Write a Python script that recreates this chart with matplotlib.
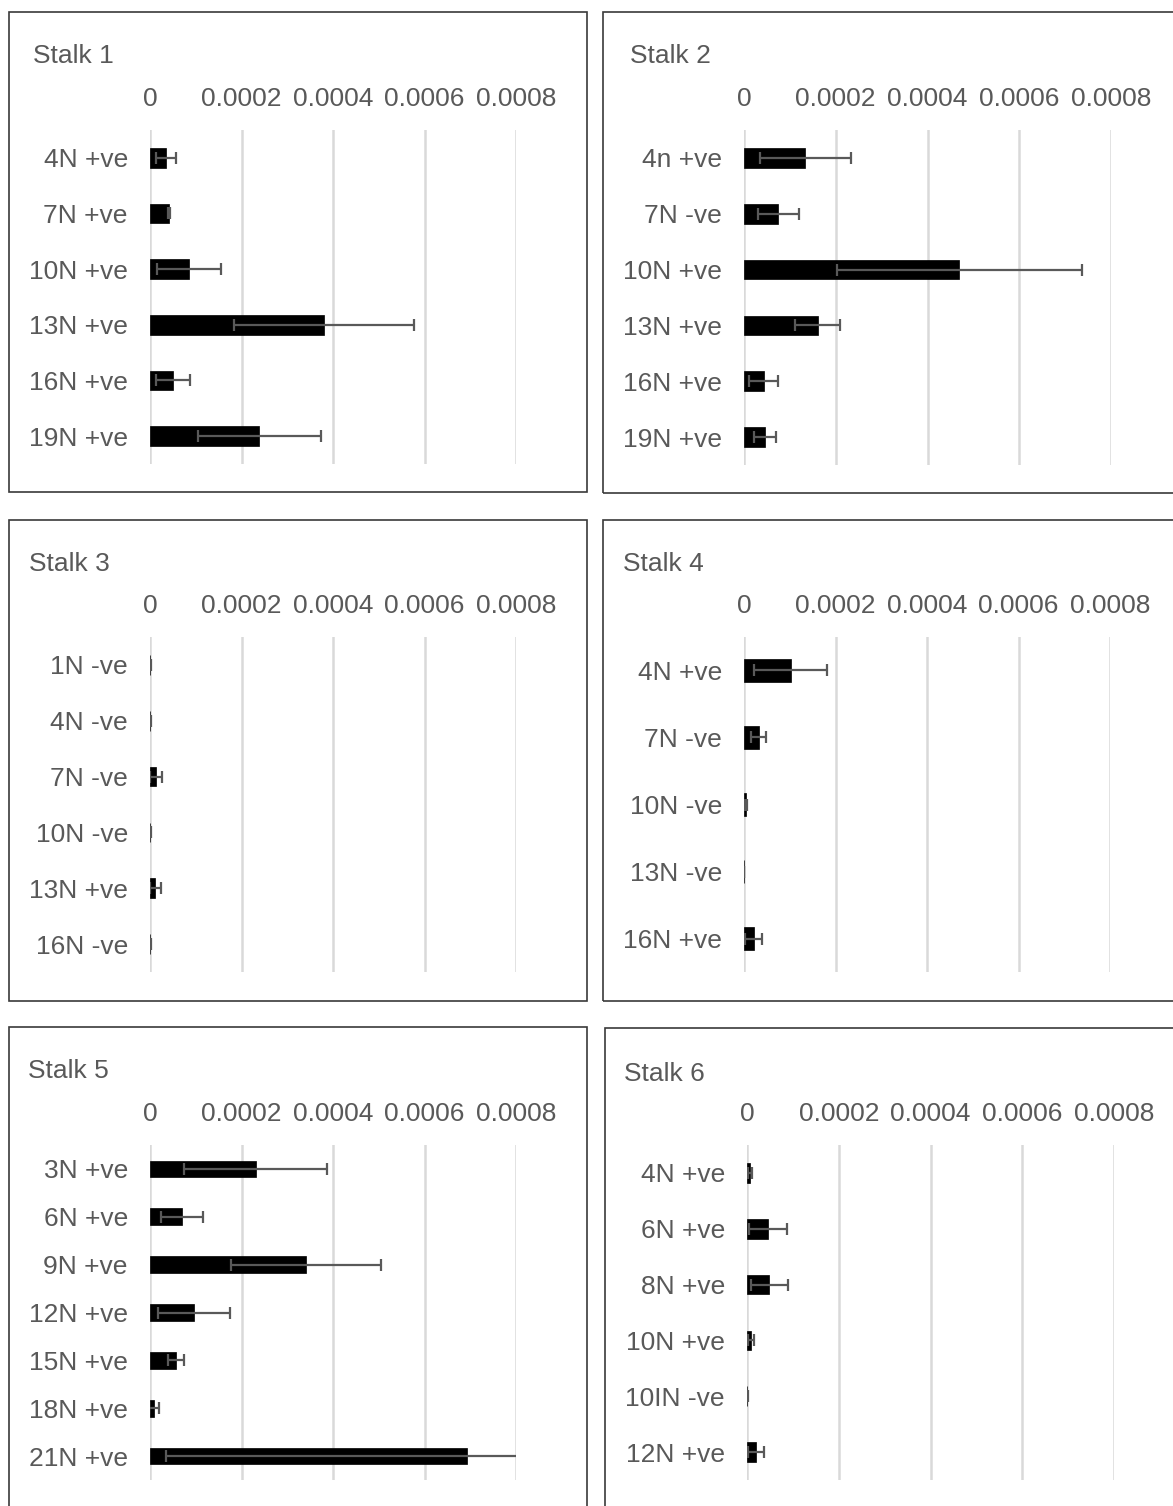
import matplotlib
matplotlib.use('Agg')
import matplotlib.pyplot as plt
from matplotlib.patches import Rectangle

plt.rcParams['font.family'] = ['Liberation Sans', 'DejaVu Sans']

W, H = 1173, 1506
TXT = '#595959'

# ---------------- data ----------------
xtick_values = [0, 0.0002, 0.0004, 0.0006, 0.0008]
xtick_labels = ['0', '0.0002', '0.0004', '0.0006', '0.0008']

stalk1_labels = ['4N +ve', '7N +ve', '10N +ve', '13N +ve', '16N +ve', '19N +ve']
stalk1_means = [3.5e-5, 4.1e-5, 8.6e-5, 3.80e-4, 5.1e-5, 2.39e-4]
stalk1_errs = [2.2e-5, 2e-6, 7.0e-5, 1.96e-4, 3.7e-5, 1.35e-4]

stalk2_labels = ['4n +ve', '7N -ve', '10N +ve', '13N +ve', '16N +ve', '19N +ve']
stalk2_means = [1.34e-4, 7.5e-5, 4.69e-4, 1.61e-4, 4.3e-5, 4.5e-5]
stalk2_errs = [1.0e-4, 4.4e-5, 2.67e-4, 4.9e-5, 3.2e-5, 2.4e-5]

stalk3_labels = ['1N -ve', '4N -ve', '7N -ve', '10N -ve', '13N +ve', '16N -ve']
stalk3_means = [1e-6, 1e-6, 1.3e-5, 1e-6, 1.2e-5, 1e-6]
stalk3_errs = [0.5e-6, 0.5e-6, 1.4e-5, 0.5e-6, 1.2e-5, 0.5e-6]

stalk4_labels = ['4N +ve', '7N -ve', '10N -ve', '13N -ve', '16N +ve']
stalk4_means = [1.02e-4, 3.2e-5, 5e-6, 0.5e-6, 2.1e-5]
stalk4_errs = [8.0e-5, 1.7e-5, 2e-6, 0.3e-6, 1.8e-5]

stalk5_labels = ['3N +ve', '6N +ve', '9N +ve', '12N +ve', '15N +ve', '18N +ve', '21N +ve']
stalk5_means = [2.31e-4, 7.0e-5, 3.41e-4, 9.6e-5, 5.7e-5, 8e-6, 6.93e-4]
stalk5_errs = [1.56e-4, 4.5e-5, 1.64e-4, 7.8e-5, 1.8e-5, 1.1e-5, 6.58e-4]

stalk6_labels = ['4N +ve', '6N +ve', '8N +ve', '10N +ve', '10IN -ve', '12N +ve']
stalk6_means = [6.5e-6, 4.6e-5, 4.9e-5, 9e-6, 1e-6, 2.0e-5]
stalk6_errs = [4e-6, 4.1e-5, 4.0e-5, 6.5e-6, 0.5e-6, 1.8e-5]

titles = ['Stalk 1', 'Stalk 2', 'Stalk 3', 'Stalk 4', 'Stalk 5', 'Stalk 6']
data = [
    (stalk1_labels, stalk1_means, stalk1_errs),
    (stalk2_labels, stalk2_means, stalk2_errs),
    (stalk3_labels, stalk3_means, stalk3_errs),
    (stalk4_labels, stalk4_means, stalk4_errs),
    (stalk5_labels, stalk5_means, stalk5_errs),
    (stalk6_labels, stalk6_means, stalk6_errs),
]

# ---------------- layout (pixels) ----------------
# box (x0, y0, x1, y1), plot area (x0, y0, x1, y1), title (x, y)
layout = [
    ((9, 12, 587, 492), (150, 130, 516, 464), (33, 56)),
    ((603, 12, 1185, 493), (744, 130, 1111, 465), (630, 56)),
    ((9, 520, 587, 1001), (150, 637, 516, 972), (29, 564)),
    ((603, 520, 1185, 1001), (744, 637, 1110, 972), (623, 564)),
    ((9, 1027, 587, 1515), (150, 1145, 516, 1480), (28, 1071)),
    ((605, 1028, 1185, 1515), (747, 1145, 1114, 1480), (624, 1074)),
]

FS = 19
fig = plt.figure(figsize=(W / 100, H / 100), dpi=100)
fig.patch.set_facecolor('white')

for (labels, means, errs), title, (box, pa, tpos) in zip(data, titles, layout):
    bx0, by0, bx1, by1 = box
    fig.patches.append(Rectangle((bx0 / W, 1 - by1 / H), (bx1 - bx0) / W, (by1 - by0) / H,
                                 transform=fig.transFigure, fill=False,
                                 edgecolor='#3a3a3a', linewidth=1.2, zorder=0))
    fig.text(tpos[0] / W, 1 - tpos[1] / H, title, fontsize=FS, color=TXT,
             ha='left', va='center')

    px0, py0, px1, py1 = pa
    ax = fig.add_axes([px0 / W, 1 - py1 / H, (px1 - px0) / W, (py1 - py0) / H])
    ax.set_facecolor('none')
    n = len(labels)
    ypos = list(range(n))
    ax.barh(ypos, means, height=0.35, color='black', edgecolor='black', linewidth=0.5, zorder=2)
    ax.errorbar(means, ypos, xerr=errs, fmt='none', ecolor='#595959', elinewidth=1.6,
                capsize=4.5, capthick=1.6, zorder=3)
    ax.set_xlim(0, 0.0008)
    ax.set_ylim(n - 0.5, -0.5)
    ax.set_yticks(ypos)
    ax.set_yticklabels(labels)
    ax.set_xticks(xtick_values)
    ax.set_xticklabels(xtick_labels)
    ax.xaxis.tick_top()
    ax.tick_params(axis='x', length=0, pad=14, labelsize=FS, labelcolor=TXT)
    ax.tick_params(axis='y', length=0, pad=16, labelsize=FS, labelcolor=TXT)
    for s in ax.spines.values():
        s.set_visible(False)
    ax.grid(axis='x', color='#d9d9d9', linewidth=1.8, zorder=0)
    ax.set_axisbelow(True)

fig.savefig('out.png', dpi=100, facecolor='white')
